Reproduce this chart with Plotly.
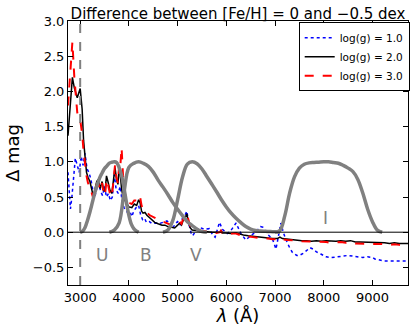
import plotly.graph_objects as go

# wavelengths (Angstrom) and magnitude differences
wl_mid = [2750, 2800, 2840, 2880, 2940, 3000, 3040, 3070, 3100, 3130, 3160, 3200, 3240, 3270,
          3300, 3340, 3370, 3410, 3450, 3480, 3510, 3540, 3570, 3610, 3650, 3690, 3715, 3745,
          3775, 3800, 3820, 3850, 3880, 3920, 3960, 4000, 4060, 4110, 4160, 4200, 4230, 4260,
          4290, 4330, 4370, 4400, 4430, 4480, 4530, 4600, 4680, 4740, 4800, 4880, 4940, 5000,
          5040, 5080, 5110, 5150, 5190, 5220, 5260, 5300, 5400, 5500, 5600, 5700, 5800, 5870,
          5890, 5920, 6000, 6100, 6200, 6280, 6350, 6450, 6550, 6650, 6750, 6850, 6950, 7050,
          7100, 7150, 7250, 7350, 7450, 7550, 7650, 7750, 7850, 7950, 8050, 8150, 8250, 8350,
          8450, 8550, 8650, 8750, 8850, 8950, 9050, 9150, 9250, 9350, 9450, 9550, 9650, 9730]

dmag_logg2 = [1.37, 1.9, 2.2, 2.05, 1.91, 2.04, 1.75, 1.3, 1.0, 0.85, 0.78, 0.72, 0.6, 0.5,
              0.6, 0.72, 0.75, 0.62, 0.72, 0.6, 0.58, 0.8, 0.72, 0.6, 0.55, 0.8, 0.92, 0.75,
              0.68, 0.9, 0.85, 0.62, 0.5, 0.45, 0.4, 0.36, 0.35, 0.4, 0.38, 0.46, 0.42, 0.3,
              0.27, 0.28, 0.24, 0.22, 0.2, 0.16, 0.14, 0.12, 0.1, 0.1, 0.08, 0.07, 0.06, 0.1,
              0.13, 0.1, 0.16, 0.2, 0.26, 0.15, 0.06, 0.03, 0.02, 0.02, 0.01, 0.0, 0.0, 0.0,
              0.03, -0.01, -0.01, -0.02, -0.01, -0.03, -0.04, -0.05, -0.06, -0.07, -0.07, -0.08, -0.09, -0.09,
              -0.07, -0.09, -0.1, -0.1, -0.11, -0.12, -0.12, -0.13, -0.12, -0.13, -0.12, -0.13, -0.13, -0.12,
              -0.13, -0.12, -0.14, -0.14, -0.14, -0.15, -0.14, -0.15, -0.15, -0.16, -0.15, -0.16, -0.16, -0.16]

dmag_logg3 = [1.8, 2.3, 2.7, 2.2, 1.7, 1.6, 1.4, 1.15, 0.95, 0.8, 0.7, 0.65, 0.55, 0.48,
              0.55, 0.68, 0.7, 0.6, 0.7, 0.55, 0.52, 0.75, 0.68, 0.55, 0.5, 0.78, 0.95, 0.78,
              0.7, 0.95, 0.9, 1.2, 0.8, 0.55, 0.45, 0.42, 0.4, 0.45, 0.45, 0.52, 0.5, 0.38,
              0.33, 0.32, 0.28, 0.26, 0.24, 0.22, 0.2, 0.17, 0.15, 0.14, 0.12, 0.1, 0.1, 0.13,
              0.15, 0.12, 0.18, 0.22, 0.26, 0.18, 0.08, 0.04, 0.03, 0.02, 0.01, 0.0, -0.01, 0.0,
              0.02, -0.02, -0.02, -0.03, -0.02, -0.04, -0.05, -0.06, -0.07, -0.08, -0.08, -0.09, -0.1, -0.1,
              -0.08, -0.1, -0.11, -0.11, -0.12, -0.13, -0.13, -0.14, -0.13, -0.14, -0.14, -0.15, -0.14, -0.14,
              -0.15, -0.14, -0.16, -0.16, -0.16, -0.17, -0.16, -0.17, -0.17, -0.18, -0.17, -0.18, -0.18, -0.19]

wl_low = [2750, 2770, 2800, 2830, 2870, 2900, 2940, 2980, 3020, 3060, 3100, 3140, 3180, 3220,
          3260, 3300, 3340, 3380, 3420, 3460, 3500, 3540, 3580, 3620, 3660, 3700, 3740, 3780,
          3820, 3860, 3900, 3940, 3980, 4020, 4060, 4100, 4150, 4200, 4240, 4280, 4320, 4360,
          4420, 4480, 4550, 4620, 4700, 4780, 4850, 4900, 4950, 5000, 5050, 5100, 5150, 5190,
          5230, 5280, 5310, 5380, 5450, 5550, 5650, 5720, 5770, 5820, 5860, 5920, 6020, 6100,
          6200, 6300, 6400, 6500, 6600, 6700, 6750, 6850, 6950, 7020, 7070, 7120, 7170, 7220,
          7300, 7360, 7450, 7500, 7580, 7650, 7720, 7780, 7850, 7940, 8050, 8160, 8300, 8400,
          8500, 8600, 8700, 8800, 8900, 9000, 9050, 9150, 9250, 9400, 9550, 9650, 9730]

dmag_logg1 = [0.85, 0.6, 0.33, 0.5, 0.8, 1.05, 0.95, 0.85, 1.08, 0.95, 1.12, 0.9, 0.85, 0.75,
              0.6, 0.5, 0.62, 0.7, 0.58, 0.52, 0.65, 0.5, 0.55, 0.45, 0.5, 0.82, 0.6, 0.55,
              0.65, 0.45, 0.35, 0.3, 0.28, 0.3, 0.22, 0.3, 0.35, 0.38, 0.25, 0.18, 0.2, 0.14,
              0.15, 0.12, 0.13, 0.12, 0.14, 0.16, 0.12, 0.05, 0.12, 0.15, 0.1, 0.2, 0.24, 0.3,
              0.12, -0.02, -0.05, 0.03, 0.07, 0.04, 0.05, -0.04, -0.07, 0.05, 0.14, 0.04, -0.02, 0.03,
              0.13, -0.02, -0.11, -0.05, 0.0, 0.08, 0.07, -0.03, -0.1, -0.24, -0.05, 0.13, 0.0, -0.1,
              -0.22, -0.29, -0.33, -0.33, -0.3, -0.26, -0.22, -0.24, -0.28, -0.31, -0.35, -0.36, -0.35, -0.34,
              -0.33, -0.34, -0.35, -0.36, -0.35, -0.36, -0.38, -0.4, -0.41, -0.41, -0.41, -0.4, -0.41]

# normalised filter transmission curves
wl_U = [3000, 3050, 3100, 3150, 3200, 3250, 3300, 3350, 3400, 3450, 3500, 3550, 3600, 3650,
        3700, 3750, 3800, 3850, 3900, 3950, 4000, 4050, 4100, 4150, 4200]
tr_U = [0.0, 0.016, 0.068, 0.167, 0.287, 0.423, 0.56, 0.673, 0.772, 0.841, 0.905, 0.943, 0.981, 0.993,
        1.0, 0.989, 0.916, 0.804, 0.625, 0.423, 0.238, 0.114, 0.051, 0.019, 0.0]
wl_B = [3600, 3700, 3800, 3900, 4000, 4100, 4200, 4300, 4400, 4500, 4600, 4700, 4800, 4900,
        5000, 5100, 5200, 5300, 5400, 5500, 5600]
tr_B = [0.0, 0.03, 0.134, 0.567, 0.92, 0.978, 1.0, 0.978, 0.935, 0.853, 0.74, 0.64, 0.536, 0.424,
        0.325, 0.235, 0.15, 0.095, 0.043, 0.009, 0.0]
wl_V = [4700, 4800, 4900, 5000, 5100, 5200, 5300, 5400, 5500, 5600, 5700, 5800, 5900, 6000,
        6100, 6200, 6300, 6400, 6500, 6600, 6700, 6800, 6900, 7000, 7100]
tr_V = [0.0, 0.03, 0.163, 0.458, 0.78, 0.967, 1.0, 0.973, 0.898, 0.792, 0.684, 0.574, 0.461, 0.359,
        0.27, 0.197, 0.135, 0.081, 0.045, 0.025, 0.017, 0.013, 0.009, 0.005, 0.0]
wl_I = [7000, 7100, 7200, 7300, 7400, 7500, 7600, 7700, 7800, 7900, 8000, 8100, 8200, 8300,
        8400, 8500, 8600, 8700, 8800, 8900, 9000, 9100, 9200]
tr_I = [0.0, 0.024, 0.232, 0.555, 0.785, 0.91, 0.965, 0.985, 0.99, 0.995, 1.0, 1.0, 0.99, 0.98,
        0.95, 0.91, 0.86, 0.75, 0.56, 0.33, 0.15, 0.03, 0.0]

filter_names = ["U", "B", "V", "I"]
filter_label_x = [3450, 4350, 5370, 8040]
filter_label_y = [-0.33, -0.33, -0.33, 0.2]
cutoff_wl = 3000

FONT = "DejaVu Sans"
GREY = "#808080"

fig = go.Figure()

fig.add_trace(go.Scatter(x=wl_low, y=dmag_logg1, mode="lines", name="log(g) = 1.0",
                         line=dict(color="blue", width=1.5, dash="dot")))
fig.add_trace(go.Scatter(x=wl_mid, y=dmag_logg2, mode="lines", name="log(g) = 2.0",
                         line=dict(color="black", width=1.5)))
fig.add_trace(go.Scatter(x=wl_mid, y=dmag_logg3, mode="lines", name="log(g) = 3.0",
                         line=dict(color="red", width=2, dash="dash")))

for wl, tr in [(wl_U, tr_U), (wl_B, tr_B), (wl_V, tr_V), (wl_I, tr_I)]:
    fig.add_trace(go.Scatter(x=wl, y=tr, mode="lines", showlegend=False,
                             line=dict(color=GREY, width=3.5, shape="spline")))

fig.add_hline(y=0, line=dict(color="black", width=1))
fig.add_vline(x=cutoff_wl, line=dict(color=GREY, width=2, dash="dash"))

for name, lx, ly in zip(filter_names, filter_label_x, filter_label_y):
    fig.add_annotation(x=lx, y=ly, text=name, showarrow=False,
                       font=dict(family=FONT, size=17, color=GREY))

axis_style = dict(showgrid=False, zeroline=False, showline=True, linecolor="black",
                  linewidth=1, mirror="allticks", ticks="inside", ticklen=5,
                  tickcolor="black", automargin=False,
                  tickfont=dict(family=FONT, size=13, color="black"))

fig.update_layout(
    width=416, height=334,
    margin=dict(l=68, r=6, t=21, b=49),
    paper_bgcolor="white", plot_bgcolor="white",
    title=dict(text="Difference between [Fe/H] = 0 and \u22120.5 dex",
               font=dict(family=FONT, size=15, color="black"), automargin=False,
               x=0.5, xref="paper", xanchor="center", y=1, yref="paper", yanchor="bottom",
               pad=dict(b=2)),
    xaxis=dict(range=[2750, 9730], tickvals=[3000, 4000, 5000, 6000, 7000, 8000, 9000],
               title=dict(text="<i>\u03bb</i> (\u00c5)", font=dict(family=FONT, size=18, color="black"),
                          standoff=4),
               **axis_style),
    yaxis=dict(range=[-0.75, 3.0], tickvals=[-0.5, 0, 0.5, 1.0, 1.5, 2.0, 2.5, 3.0],
               tickformat=".1f",
               title=dict(text="\u0394 mag", font=dict(family=FONT, size=18, color="black"),
                          standoff=8),
               **axis_style),
    legend=dict(x=1.005, y=0.995, xanchor="right", yanchor="top",
                bgcolor="white", bordercolor="black", borderwidth=1,
                font=dict(family=FONT, size=10.5, color="black"),
                tracegroupgap=0, itemwidth=30),
    showlegend=True,
)

# page body has a default 8px margin; remove it so the figure sits at the window origin
fig.write_html("out.html", config={"displayModeBar": False},
               post_script="document.body.style.margin = '0';")
